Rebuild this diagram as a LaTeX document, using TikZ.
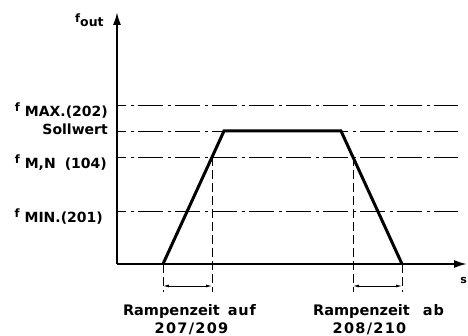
\documentclass[tikz,border=0pt]{standalone}
\usepackage{fontspec}
\setmainfont{DejaVu Sans}
\usetikzlibrary{arrows.meta,positioning}
\newcommand{\fsym}[1]{{\fontsize{11.5}{11.5}\selectfont f}\hspace{5pt}\raisebox{-5pt}{#1}}
\newcommand{\wide}[2][6]{{\addfontfeature{LetterSpace=#1}#2}}
\begin{document}
\begin{tikzpicture}[x=1pt,y=-1pt,>=Latex,
  axisline/.style={line width=1.9pt},
  ramp/.style={line width=3pt,line join=miter},
  level/.style={line width=0.9pt,dash pattern=on 25pt off 4.5pt on 3pt off 4.5pt,dash phase=16pt},
  guide/.style={line width=0.8pt,dash pattern=on 9pt off 4pt},
  span/.style={line width=0.8pt,{Latex[length=6pt,width=3pt]}-{Latex[length=6pt,width=3pt]}},
  lbl/.style={inner sep=0pt,font=\fontsize{14}{14}\selectfont\bfseries},
  rampname/.style={inner sep=0pt,anchor=base,font=\fontsize{14.5}{14.5}\selectfont\bfseries}]
\useasboundingbox (0,0) rectangle (468,336);
% axes
\coordinate (O) at (117,264);
\coordinate (ytip) at (117,12);
\coordinate (xtip) at (467,264);
\draw[axisline,-{Latex[length=13pt,width=8pt]}] (O) -- (ytip);
\draw[axisline,-{Latex[length=13pt,width=8pt]}] (O) -- (xtip);
\node[lbl,anchor=base west] (fout) at (75,23) {{\fontsize{11.5}{11.5}\selectfont f}\raisebox{-4pt}{\fontsize{12.5}{12.5}\selectfont out}};
\node[lbl,anchor=base east,font=\fontsize{11}{11}\selectfont\bfseries] (s) at (467,284) {s};
% frequency levels
\foreach \y/\nm/\x/\b/\lab in {105/max/108/112/{\fsym{MAX.(202)}},131/soll/108/135/{Sollwert},157/mn/107/164/{\fsym{M,N\hspace{9pt}(104)}},211/min/103/218/{\fsym{MIN.(201)}}}{
  \node[lbl,anchor=base east] (\nm) at (\x,\b) {\lab};
  \coordinate (\nm-a) at (117,\y); \coordinate (\nm-b) at (458,\y);
  \draw[level] (\nm-a) -- (\nm-b);}
% ramp
\coordinate (r1) at (163,264); \coordinate (r2) at (224,131);
\coordinate (r3) at (341,131); \coordinate (r4) at (402,264);
\draw[ramp] (r1) -- (r2) -- (r3) -- (r4);
% ramp times
\foreach \g/\x/\t in {g1/163/264,g2/212/157,g3/353/157,g4/402/264}{
  \coordinate (\g-top) at (\x,\t); \coordinate (\g-end) at (\x,292);
  \draw[guide] (\g-top) -- (\g-end);}
\coordinate (upL) at (163,286); \coordinate (upR) at (212,286);
\coordinate (dnL) at (353,286); \coordinate (dnR) at (402,286);
\draw[span] (upL) -- (upR);
\draw[span] (dnL) -- (dnR);
\node[rampname] (upname) at (189.5,316) {Rampenzeit\hspace{8pt}\wide{auf}};
\node[rampname] (upcode) at (191.5,333) {\wide[9]{207/209}};
\node[rampname] (dnname) at (378.5,316) {Rampenzeit\hspace{13pt}\wide{ab}};
\node[rampname] (dncode) at (369.5,333) {\wide[9]{208/210}};
\end{tikzpicture}
\end{document}
